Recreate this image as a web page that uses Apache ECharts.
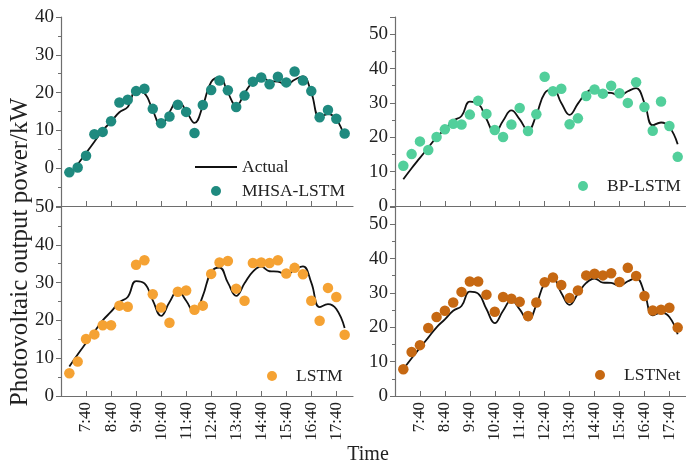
<!DOCTYPE html>
<html>
<head>
<meta charset="utf-8">
<script src="https://cdn.jsdelivr.net/npm/echarts@6/dist/echarts.min.js"></script>
<style>html,body{margin:0;padding:0;background:#fff}#c{width:686px;height:469px}</style>
</head>
<body>
<div id="c"></div>
<script>
// Sample times (every 20 min)
const times = ['7:00','7:20','7:40','8:00','8:20','8:40','9:00','9:20','9:40','10:00','10:20','10:40','11:00','11:20','11:40','12:00','12:20','12:40','13:00','13:20','13:40','14:00','14:20','14:40','15:00','15:20','15:40','16:00','16:20','16:40','17:00','17:20','17:40','18:00'];
const tickLabels = ['7:40','8:40','9:40','10:40','11:40','12:40','13:40','14:40','15:40','16:40','17:40'];
const actual = [7.8, 11.0, 14.0, 17.0, 20.0, 22.3, 24.8, 26.2, 30.4, 29.8, 25.3, 21.2, 24.8, 27.8, 25.2, 22.0, 26.5, 32.8, 34.0, 30.0, 26.5, 29.8, 32.9, 34.2, 33.0, 32.9, 32.1, 33.4, 34.3, 30.0, 23.5, 24.3, 23.0, 18.0];
// MHSA-LSTM (same units as the Actual line; the original panel's tick labels are shifted by 10)
const mhsa = [8.9, 10.2, 13.3, 19.0, 19.6, 22.4, 27.4, 28.1, 30.4, 31.0, 25.7, 21.9, 23.7, 26.8, 24.9, 19.3, 26.7, 30.7, 33.2, 30.6, 26.2, 29.2, 32.9, 34.0, 32.2, 34.2, 32.7, 35.6, 33.2, 30.4, 23.5, 25.4, 23.1, 19.2];
const bp = [11.7, 15.1, 18.8, 16.3, 20.1, 22.3, 23.9, 23.7, 26.6, 30.6, 26.8, 22.1, 20.1, 23.7, 28.5, 21.8, 26.7, 37.6, 33.4, 34.1, 23.8, 25.5, 32.0, 33.9, 32.7, 35.0, 32.8, 30.0, 36.0, 28.8, 21.9, 30.4, 23.3, 14.3];
const lstm = [6.0, 9.1, 15.1, 16.3, 18.7, 18.7, 23.9, 23.6, 34.7, 35.9, 26.9, 23.4, 19.4, 27.6, 27.9, 22.8, 23.9, 32.3, 35.3, 35.7, 28.4, 25.2, 35.2, 35.3, 35.2, 35.9, 32.4, 33.9, 32.2, 25.2, 19.9, 28.6, 26.2, 16.2];
const lstnet = [7.8, 12.8, 14.8, 19.8, 23.0, 24.8, 27.2, 30.3, 33.3, 33.3, 29.5, 24.5, 28.8, 28.3, 27.4, 23.3, 27.2, 33.1, 34.5, 32.3, 28.5, 30.7, 35.1, 35.6, 35.1, 35.7, 33.2, 37.3, 34.9, 29.1, 24.9, 25.1, 25.7, 19.9];

const FONT = "'Liberation Serif','Times New Roman',serif";
const ORIGIN = 6*60+40; // x axis starts at 6:40
const toMin = s => { const [h,m] = s.split(':').map(Number); return h*60+m - ORIGIN; };
const xs = times.map(toMin);
const tickVals = tickLabels.map(toMin);
const pairs = arr => arr.map((v,i) => [xs[i], v]);

const grids = [
  {left:61, top:17, width:292, height:189},
  {left:395, top:17, width:293, height:189},
  {left:61, top:207, width:292, height:189},
  {left:395, top:207, width:293, height:189}
];
const axisColor = '#6e6e6e';
function xAxis(i, showLabels){
  return {
    type:'value', gridIndex:i, min:0, max:700,
    axisLine:{onZero:false, lineStyle:{color:axisColor, width:1.2}},
    axisTick:{inside:true, length:5, customValues:tickVals, lineStyle:{color:axisColor}},
    axisLabel:{show:showLabels, customValues:tickVals, rotate:90, margin:6, fontSize:17, fontFamily:FONT, color:'#222',
      formatter: v => { const k = tickVals.indexOf(v); return k >= 0 ? tickLabels[k] : ''; }},
    splitLine:{show:false}
  };
}
function yAxis(i, max, fmt){
  return {
    type:'value', gridIndex:i, min:0, max:max, interval:10,
    axisLine:{show:true, lineStyle:{color:axisColor, width:1.2}},
    axisTick:{show:true, length:5, lineStyle:{color:axisColor}},
    minorTick:{show:true, splitNumber:2, length:3, lineStyle:{color:axisColor}},
    axisLabel:{margin:7, fontSize:19, fontFamily:FONT, color:'#222', formatter:fmt},
    splitLine:{show:false}
  };
}
const lineSeries = i => ({
  name:'Actual', type:'line', xAxisIndex:i, yAxisIndex:i, data:pairs(actual),
  smooth:0.45, symbol:'none', lineStyle:{color:'#111', width:1.8}, itemStyle:{color:'#111'}, z:2
});
const scatter = (i, name, arr, color) => ({
  name:name, type:'scatter', xAxisIndex:i, yAxisIndex:i, data:pairs(arr),
  symbolSize:10.5, itemStyle:{color:color, opacity:1}, z:3
});
const legendBase = {orient:'vertical', itemWidth:38, itemHeight:10, itemGap:6, padding:0,
  textStyle:{fontSize:17.5, fontFamily:FONT, color:'#222'}, selectedMode:false};

const chart = echarts.init(document.getElementById('c'), null, {renderer:'canvas'});
chart.setOption({
  animation:false,
  backgroundColor:'#fff',
  grid: grids,
  xAxis:[xAxis(0,false), xAxis(1,false), xAxis(2,true), xAxis(3,true)],
  yAxis:[
    yAxis(0, 50, v => v === 0 ? '' : String(v - 10)),
    yAxis(1, 55, v => v % 10 === 0 ? String(v) : ''),
    yAxis(2, 50, v => String(v)),
    yAxis(3, 55, v => v % 10 === 0 ? String(v) : '')
  ],
  legend:[
    Object.assign({}, legendBase, {left:195, top:158, itemWidth:42,
      data:[{name:'Actual', icon:'path://M0,0L42,0L42,2L0,2Z'}, 'MHSA-LSTM']}),
    Object.assign({}, legendBase, {left:578, top:177, data:['BP-LSTM']}),
    Object.assign({}, legendBase, {left:267, top:367, data:['LSTM']}),
    Object.assign({}, legendBase, {left:595, top:366, data:['LSTNet']})
  ],
  series:[
    lineSeries(0), scatter(0,'MHSA-LSTM',mhsa,'#1f8a7f'),
    lineSeries(1), scatter(1,'BP-LSTM',bp,'#52cf9b'),
    lineSeries(2), scatter(2,'LSTM',lstm,'#f5a233'),
    lineSeries(3), scatter(3,'LSTNet',lstnet,'#c66812')
  ],
  graphic:[
    {type:'text', x:368, y:455, style:{text:'Time', fontSize:20, fontFamily:FONT, fill:'#222', align:'center', verticalAlign:'middle'}},
    {type:'text', x:20, y:252, rotation:Math.PI/2, style:{text:'Photovoltaic output power/kW', fontSize:25, fontFamily:FONT, fill:'#222', align:'center', verticalAlign:'middle'}}
  ]
});
</script>
</body>
</html>
